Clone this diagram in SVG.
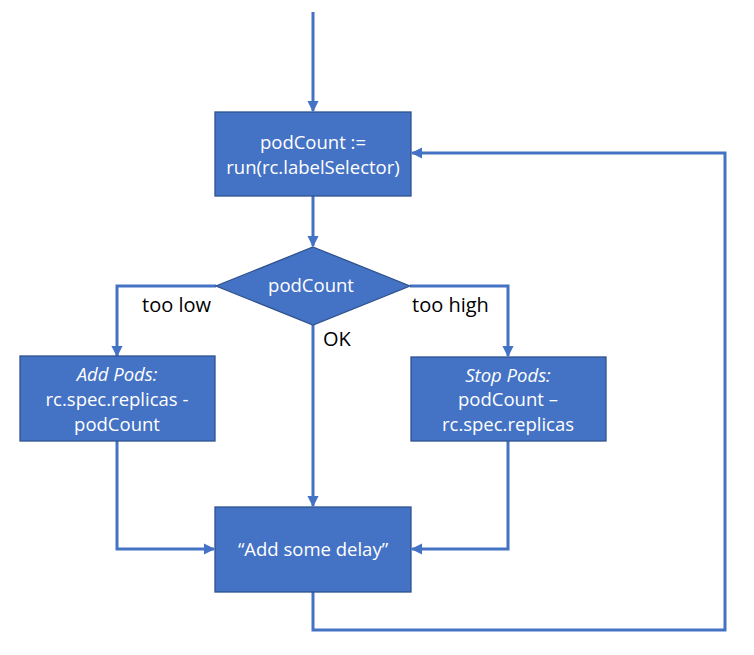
<svg xmlns="http://www.w3.org/2000/svg" width="754" height="655" viewBox="0 0 754 655">
<style>
.box{fill:#4472C4;stroke:#2F528F;stroke-width:1.3}
.t{font-family:"Open Sans","Noto Sans",sans-serif;font-size:18.5px;fill:#fff;text-anchor:middle}
.i{font-style:italic}
.lbl{font-family:"Open Sans","Noto Sans",sans-serif;font-size:20px;fill:#000}
.c{fill:none;stroke:#4472C4;stroke-width:3}
</style>
<defs>
<marker id="a" viewBox="0 0 10 10" refX="9" refY="5" markerWidth="3.8" markerHeight="3.8" orient="auto" markerUnits="strokeWidth">
<path d="M0,0 L10,5 L0,10 z" fill="#4472C4"/>
</marker>
</defs>
<rect width="754" height="655" fill="#fff"/>
<g id="connectors">
<path class="c" d="M313,12 V111" marker-end="url(#a)"/>
<path class="c" d="M313,196 V246" marker-end="url(#a)"/>
<path class="c" d="M216,286 H117 V356" marker-end="url(#a)"/>
<path class="c" d="M410,286 H508 V356" marker-end="url(#a)"/>
<path class="c" d="M313,325 V506" marker-end="url(#a)"/>
<path class="c" d="M117,441 V549 H214" marker-end="url(#a)"/>
<path class="c" d="M508,441 V549 H412" marker-end="url(#a)"/>
<path class="c" d="M313,592 V630 H725 V153 H412" marker-end="url(#a)"/>
</g>
<g id="run">
<rect class="box" x="215" y="112" width="196" height="84"/>
<text class="t" x="313" y="149">podCount :=</text>
<text class="t" x="313" y="174">run(rc.labelSelector)</text>
</g>
<g id="decision">
<polygon class="box" points="313,247 410,286 313,325 216,286"/>
<text class="t" x="311" y="292">podCount</text>
</g>
<g id="addpods">
<rect class="box" x="20" y="356" width="195" height="85"/>
<text class="t i" x="117" y="381">Add Pods:</text>
<text class="t" x="117" y="406">rc.spec.replicas -</text>
<text class="t" x="117" y="431">podCount</text>
</g>
<g id="stoppods">
<rect class="box" x="411" y="357" width="195" height="84"/>
<text class="t i" x="508" y="382">Stop Pods:</text>
<text class="t" x="508" y="406">podCount –</text>
<text class="t" x="508" y="431">rc.spec.replicas</text>
</g>
<g id="delay">
<rect class="box" x="215" y="507" width="196" height="85"/>
<text class="t" x="313" y="556">“Add some delay”</text>
</g>
<g id="labels">
<text class="lbl" x="142" y="312">too low</text>
<text class="lbl" x="412" y="312">too high</text>
<text class="lbl" x="323" y="346">OK</text>
</g>
</svg>
